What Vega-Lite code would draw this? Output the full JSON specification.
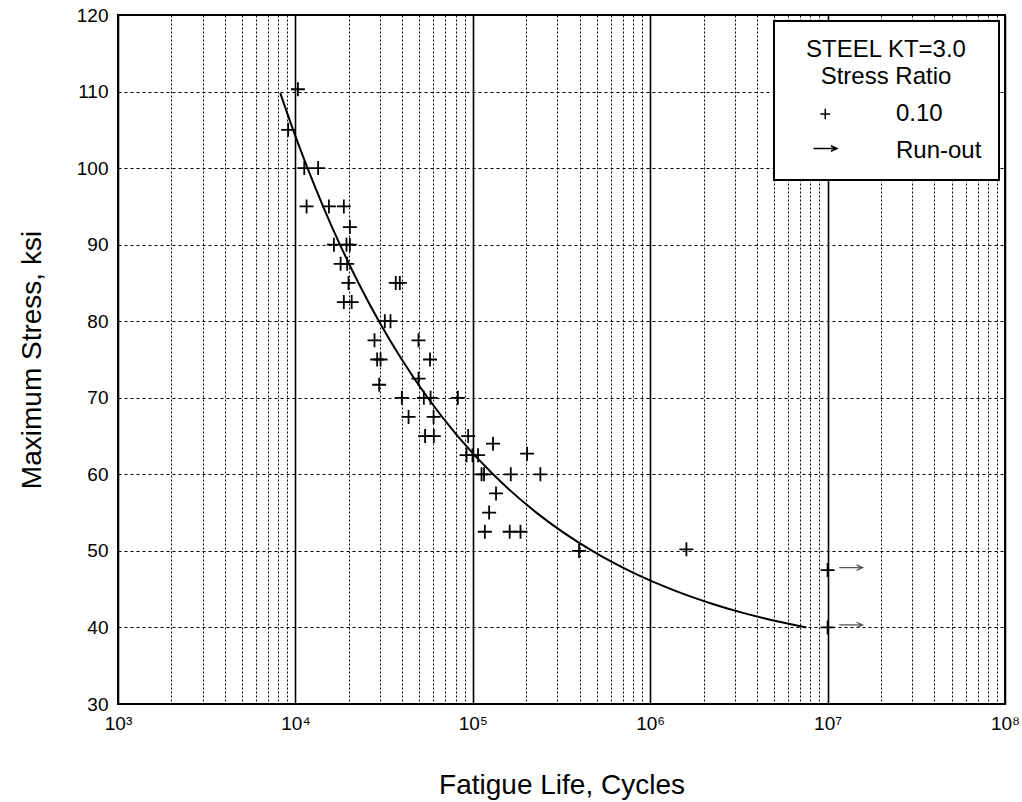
{
  "$schema": "https://vega.github.io/schema/vega-lite/v6.json",
  "width": 887,
  "height": 689,
  "autosize": {"type": "none"},
  "padding": {"left": 118, "top": 15, "right": 17, "bottom": 98},
  "background": "white",
  "config": {
    "font": "Liberation Sans",
    "view": {"stroke": "black", "strokeWidth": 2},
    "axis": {
      "labelFont": "Liberation Sans",
      "titleFont": "Liberation Sans",
      "labelColor": "black",
      "titleColor": "black",
      "titleFontWeight": "normal",
      "ticks": false,
      "domain": false,
      "gridColor": "black",
      "gridOpacity": 1,
      "labelFlush": false,
      "labelOverlap": false,
      "labelBound": false
    },
    "legend": {"strokeWidth": 2}
  },
  "datasets": {
    "tests": [
      {"N": 9100, "S": 105, "series": "0.10"},
      {"N": 10330, "S": 110.3, "series": "0.10"},
      {"N": 11220, "S": 100, "series": "0.10"},
      {"N": 13430, "S": 100, "series": "0.10"},
      {"N": 11560, "S": 95, "series": "0.10"},
      {"N": 15450, "S": 95, "series": "0.10"},
      {"N": 18750, "S": 95, "series": "0.10"},
      {"N": 20280, "S": 92.3, "series": "0.10"},
      {"N": 16480, "S": 90, "series": "0.10"},
      {"N": 19410, "S": 90, "series": "0.10"},
      {"N": 20280, "S": 90, "series": "0.10"},
      {"N": 17990, "S": 87.5, "series": "0.10"},
      {"N": 19590, "S": 87.5, "series": "0.10"},
      {"N": 19920, "S": 85, "series": "0.10"},
      {"N": 36800, "S": 85, "series": "0.10"},
      {"N": 38780, "S": 85, "series": "0.10"},
      {"N": 18750, "S": 82.5, "series": "0.10"},
      {"N": 20760, "S": 82.5, "series": "0.10"},
      {"N": 31920, "S": 80, "series": "0.10"},
      {"N": 34360, "S": 80, "series": "0.10"},
      {"N": 27920, "S": 77.5, "series": "0.10"},
      {"N": 49430, "S": 77.5, "series": "0.10"},
      {"N": 28900, "S": 75, "series": "0.10"},
      {"N": 30200, "S": 75, "series": "0.10"},
      {"N": 57410, "S": 75, "series": "0.10"},
      {"N": 49430, "S": 72.5, "series": "0.10"},
      {"N": 29650, "S": 71.7, "series": "0.10"},
      {"N": 39810, "S": 70, "series": "0.10"},
      {"N": 52960, "S": 70, "series": "0.10"},
      {"N": 57810, "S": 70, "series": "0.10"},
      {"N": 82400, "S": 70, "series": "0.10"},
      {"N": 43440, "S": 67.5, "series": "0.10"},
      {"N": 60120, "S": 67.5, "series": "0.10"},
      {"N": 53840, "S": 65, "series": "0.10"},
      {"N": 60290, "S": 65, "series": "0.10"},
      {"N": 94150, "S": 65, "series": "0.10"},
      {"N": 130000, "S": 64, "series": "0.10"},
      {"N": 92210, "S": 62.5, "series": "0.10"},
      {"N": 99600, "S": 62.5, "series": "0.10"},
      {"N": 107100, "S": 62.5, "series": "0.10"},
      {"N": 202300, "S": 62.7, "series": "0.10"},
      {"N": 112000, "S": 60, "series": "0.10"},
      {"N": 115700, "S": 60, "series": "0.10"},
      {"N": 163700, "S": 60, "series": "0.10"},
      {"N": 240400, "S": 60, "series": "0.10"},
      {"N": 135200, "S": 57.5, "series": "0.10"},
      {"N": 123600, "S": 55, "series": "0.10"},
      {"N": 116900, "S": 52.5, "series": "0.10"},
      {"N": 161400, "S": 52.5, "series": "0.10"},
      {"N": 185700, "S": 52.5, "series": "0.10"},
      {"N": 397000, "S": 50, "series": "0.10"},
      {"N": 1600000, "S": 50.2, "series": "0.10"},
      {"N": 10000000, "S": 47.5, "series": "Run-out"},
      {"N": 10000000, "S": 40, "series": "Run-out"}
    ],
    "curve": [
      {"N": 8220, "S": 109.8},
      {"N": 9710, "S": 105},
      {"N": 11710, "S": 100},
      {"N": 14320, "S": 95},
      {"N": 17830, "S": 90},
      {"N": 22680, "S": 85},
      {"N": 29570, "S": 80},
      {"N": 39790, "S": 75},
      {"N": 55700, "S": 70},
      {"N": 82140, "S": 65},
      {"N": 130100, "S": 60},
      {"N": 228300, "S": 55},
      {"N": 471300, "S": 50},
      {"N": 827000, "S": 47},
      {"N": 1309000, "S": 45},
      {"N": 2297000, "S": 43},
      {"N": 3217000, "S": 42},
      {"N": 4742000, "S": 41},
      {"N": 7600000, "S": 40}
    ]
  },
  "encoding": {
    "x": {
      "field": "N",
      "type": "quantitative",
      "scale": {"type": "log", "domain": [1000, 100000000], "nice": false},
      "axis": {
        "title": "Fatigue Life, Cycles",
        "titleFontSize": 28,
        "titlePadding": 38,
        "labelFontSize": 19,
        "labelPadding": 10,
        "values": [1000, 2000, 3000, 4000, 5000, 6000, 7000, 8000, 9000,
                   10000, 20000, 30000, 40000, 50000, 60000, 70000, 80000, 90000,
                   100000, 200000, 300000, 400000, 500000, 600000, 700000, 800000, 900000,
                   1000000, 2000000, 3000000, 4000000, 5000000, 6000000, 7000000, 8000000, 9000000,
                   10000000, 20000000, 30000000, 40000000, 50000000, 60000000, 70000000, 80000000, 90000000,
                   100000000],
        "gridDash": {"condition": {"test": "abs(log(datum.value)/LN10 - round(log(datum.value)/LN10)) < 0.000001", "value": []}, "value": [2, 2]},
        "gridWidth": {"condition": {"test": "abs(log(datum.value)/LN10 - round(log(datum.value)/LN10)) < 0.000001", "value": 1.6}, "value": 1},
        "labelExpr": "abs(log(datum.value)/LN10 - round(log(datum.value)/LN10)) < 0.000001 ? '10' + ['⁰','¹','²','³','⁴','⁵','⁶','⁷','⁸'][round(log(datum.value)/LN10)] : ''"
      }
    },
    "y": {
      "field": "S",
      "type": "quantitative",
      "scale": {"domain": [30, 120], "nice": false},
      "axis": {
        "title": "Maximum Stress, ksi",
        "titleFontSize": 28,
        "titlePadding": 30,
        "labelFontSize": 19,
        "labelPadding": 10,
        "values": [30, 40, 50, 60, 70, 80, 90, 100, 110, 120],
        "gridDash": [3, 3],
        "gridWidth": 1
      }
    }
  },
  "layer": [
    {
      "data": {"name": "curve"},
      "mark": {"type": "line", "color": "black", "strokeWidth": 2, "interpolate": "monotone"}
    },
    {
      "data": {"name": "tests"},
      "mark": {"type": "point", "shape": "M-1,0L1,0M0,-1L0,1", "filled": false, "color": "black", "strokeWidth": 1.8, "size": 196, "opacity": 1}
    },
    {
      "data": {"name": "tests"},
      "transform": [{"filter": "datum.series == 'Run-out'"}],
      "mark": {"type": "point", "filled": false, "color": "#555555", "strokeWidth": 1.3, "size": 676, "opacity": 1},
      "encoding": {
        "shape": {
          "field": "series",
          "type": "nominal",
          "scale": {
            "domain": ["0.10", "Run-out"],
            "range": ["M1.41,0L2.17,0M1.79,-0.4L1.79,0.4", "M0.89,-0.19L2.69,-0.19M2.23,-0.4L2.69,-0.19L2.23,0.02"]
          },
          "legend": {
            "title": ["STEEL KT=3.0", "Stress Ratio"],
            "orient": "top-right",
            "offset": 6,
            "padding": 17,
            "strokeColor": "black",
            "fillColor": "white",
            "titleFont": "Liberation Sans",
            "titleFontSize": 24,
            "titleFontWeight": "normal",
            "titleColor": "black",
            "titleAlign": "center",
            "titleAnchor": "middle",
            "titleLineHeight": 27,
            "titlePadding": 11,
            "titleLimit": 400,
            "labelFont": "Liberation Sans",
            "labelFontSize": 24,
            "labelColor": "black",
            "labelOffset": 80,
            "labelLimit": 300,
            "symbolOffset": -3,
            "symbolSize": 676,
            "rowPadding": 11,
            "symbolStrokeWidth": 1.5,
            "symbolStrokeColor": "black",
            "symbolFillColor": "transparent"
          }
        }
      }
    }
  ]
}
